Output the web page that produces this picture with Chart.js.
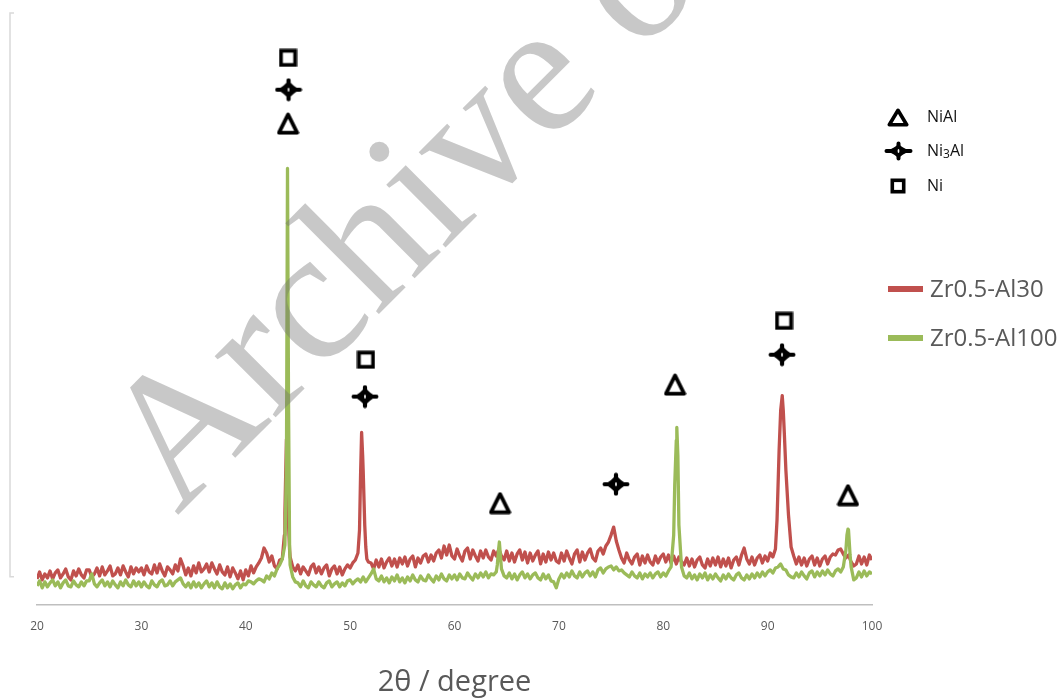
<!DOCTYPE html>
<html>
<head>
<meta charset="utf-8">
<title>XRD patterns</title>
<script src="https://cdn.jsdelivr.net/npm/chart.js@4.4.1/dist/chart.umd.min.js"></script>
<style>
  html, body { margin: 0; padding: 0; background: #ffffff; }
  canvas { display: block; }
</style>
</head>
<body>
<canvas id="xrd" width="1060" height="700"></canvas>
<script>
// Scan range and step of the diffractometer (2θ, degrees)
const scanStart = 20;
const scanEnd = 100;
const scanStep = 0.25;

// Intensity (a.u.) of Zr0.5-Al30, one value per scan step, rows of 5°
const intensityAl30 = [
  26, 33, 25, 31, 27, 34, 26, 32, 35, 27, 31, 36, 28, 25, 34, 29, 36, 30, 27, 35,
  35, 28, 31, 37, 29, 38, 30, 34, 39, 29, 31, 37, 30, 39, 33, 28, 38, 31, 37, 33,
  37, 30, 39, 33, 31, 40, 32, 41, 34, 29, 38, 35, 31, 40, 34, 46, 39, 30, 37, 29,
  39, 32, 42, 33, 36, 41, 33, 42, 36, 31, 40, 33, 30, 38, 28, 37, 32, 26, 34, 25,
  35, 29, 39, 32, 38, 42, 47, 57, 52, 43, 49, 39, 36, 45, 46, 92, 140, 48, 38, 34,
  40, 31, 38, 34, 30, 38, 41, 32, 38, 31, 37, 40, 29, 36, 39, 31, 38, 30, 36, 40,
  37, 42, 45, 52, 130, 135, 58, 43, 42, 36, 45, 38, 46, 37, 43, 47, 39, 46, 38, 47,
  41, 48, 39, 46, 49, 38, 47, 42, 49, 51, 43, 50, 44, 52, 55, 47, 59, 50, 60, 49,
  46, 56, 49, 44, 54, 57, 46, 55, 49, 44, 54, 47, 55, 48, 45, 54, 49, 56, 49, 45,
  54, 44, 52, 43, 51, 55, 45, 53, 42, 52, 44, 50, 54, 41, 51, 43, 53, 45, 52, 44,
  42, 52, 44, 54, 47, 41, 51, 55, 43, 53, 45, 52, 56, 47, 44, 54, 57, 51, 59, 63,
  70, 78, 64, 55, 47, 42, 52, 45, 41, 48, 51, 40, 49, 42, 50, 43, 40, 49, 42, 48,
  51, 43, 50, 42, 49, 41, 48, 43, 40, 47, 39, 46, 38, 45, 48, 40, 37, 46, 39, 47,
  40, 48, 38, 46, 39, 47, 37, 45, 48, 40, 50, 57, 46, 41, 48, 40, 47, 50, 42, 49,
  44, 52, 48, 56, 120, 195, 195, 135, 90, 58, 49, 41, 48, 40, 47, 39, 46, 49, 40, 47,
  39, 46, 49, 41, 48, 51, 50, 55, 56, 51, 47, 50, 43, 39, 41, 49, 41, 48, 40, 50,
  45
];

// Intensity (a.u.) of Zr0.5-Al100, one value per scan step, rows of 5°
const intensityAl100 = [
  19, 24, 17, 23, 18, 22, 25, 19, 23, 17, 22, 25, 19, 18, 24, 20, 18, 23, 19, 24,
  24, 31, 21, 18, 22, 25, 19, 23, 18, 24, 20, 17, 23, 19, 25, 20, 18, 24, 19, 23,
  18, 23, 19, 17, 24, 20, 18, 23, 25, 19, 20, 24, 19, 23, 25, 27, 21, 18, 22, 17,
  23, 18, 22, 17, 21, 24, 18, 22, 17, 23, 18, 16, 22, 17, 21, 16, 20, 22, 17, 21,
  20, 24, 23, 21, 24, 26, 25, 23, 29, 26, 32, 29, 36, 40, 46, 60, 438, 40, 28, 23,
  22, 18, 24, 19, 17, 23, 20, 18, 23, 19, 17, 22, 24, 18, 21, 23, 18, 22, 19, 24,
  25, 21, 24, 26, 23, 28, 23, 27, 31, 36, 26, 24, 29, 23, 27, 22, 28, 24, 30, 23,
  27, 22, 28, 24, 30, 25, 23, 29, 25, 24, 30, 26, 23, 29, 25, 31, 26, 24, 30, 26,
  30, 25, 31, 27, 26, 32, 28, 25, 31, 27, 32, 28, 33, 27, 31, 30, 33, 58, 36, 29,
  27, 32, 26, 31, 25, 30, 33, 27, 31, 26, 30, 32, 27, 25, 31, 26, 30, 24, 23, 17,
  26, 31, 27, 32, 28, 34, 29, 27, 33, 28, 32, 34, 29, 33, 28, 35, 37, 32, 36, 38,
  39, 35, 38, 34, 35, 32, 30, 28, 33, 29, 27, 32, 26, 31, 28, 32, 27, 31, 33, 28,
  32, 29, 34, 38, 70, 165, 80, 38, 29, 27, 32, 26, 30, 25, 31, 27, 32, 25, 30, 26,
  31, 27, 24, 30, 26, 31, 27, 25, 30, 32, 27, 25, 30, 26, 31, 27, 32, 28, 33, 29,
  33, 35, 32, 37, 38, 41, 36, 35, 30, 28, 27, 32, 28, 33, 29, 26, 32, 34, 28, 33,
  29, 34, 30, 35, 31, 29, 34, 36, 33, 38, 55, 75, 38, 25, 27, 33, 28, 34, 29, 33,
  31
];

// Additional readings across the sharp reflections (angle, intensity)
const al30PeakTheta  = [43.7, 43.8, 43.9, 44.1, 44.2, 50.9, 51.1, 51.2, 51.4, 51.6, 90.9, 91.1, 91.4, 91.6];
const al30PeakValue  = [70, 118, 166, 80, 55, 75, 173, 150, 80, 46, 85, 155, 210, 172];
const al100PeakTheta = [43.9, 44.1, 44.2, 64.1, 64.3, 81.1, 81.3, 81.4, 97.6, 97.7, 97.9];
const al100PeakValue = [140, 200, 60, 40, 63, 120, 178, 150, 70, 76, 50];

// Phase identification marks: reflection angle and height of the mark
const nialTheta  = [44.05, 64.36, 81.13, 97.7];
const nialLevel  = [483, 102, 221, 110];
const ni3alTheta = [44.1, 51.42, 75.47, 91.38];
const ni3alLevel = [517, 209, 121, 251];
const niTheta    = [44.05, 51.52, 91.57];
const niLevel    = [549, 246, 285];

const seriesNames = ['Zr0.5-Al30', 'Zr0.5-Al100'];
const phaseNames  = ['NiAl', 'Ni3Al', 'Ni'];
const xTicks      = [20, 30, 40, 50, 60, 70, 80, 90, 100];

const RED = '#C0504D';
const GREEN = '#9BBB59';
const TEXT_GREY = '#595959';
const FONT = '"Open Sans", "Noto Sans", sans-serif';

function toPoints(xs, ys) {
  return xs.map((x, i) => ({ x: x, y: ys[i] }));
}

// Step scan merged with the extra readings, ordered by angle
function scanPoints(values, extraTheta, extraValue) {
  const pts = values.map((v, i) => ({ x: scanStart + i * scanStep, y: v }));
  return pts.concat(toPoints(extraTheta, extraValue)).sort((a, b) => a.x - b.x);
}

// Phase symbols rendered to small canvases for use as point styles
function makeSymbol(kind, w, h, lw) {
  const c = document.createElement('canvas');
  c.width = w; c.height = h;
  const g = c.getContext('2d');
  g.strokeStyle = '#000';
  g.fillStyle = '#000';
  g.lineWidth = lw;
  g.lineJoin = 'round';
  const p = lw / 2 + 0.5;
  if (kind === 'triangle') {
    g.beginPath();
    g.moveTo(w / 2, p);
    g.lineTo(w - p, h - p);
    g.lineTo(p, h - p);
    g.closePath();
    g.stroke();
  } else if (kind === 'square') {
    g.lineJoin = 'miter';
    g.strokeRect(p, p, w - 2 * p, h - 2 * p);
  } else {
    // four-pointed star: concave body, rounded arms and a pin-hole centre
    const cx = w / 2, cy = h / 2, k = Math.min(w, h) * 0.16;
    const e = lw / 2 + 0.5;
    g.beginPath();
    g.moveTo(cx, e);
    g.quadraticCurveTo(cx + k, cy - k, w - e, cy);
    g.quadraticCurveTo(cx + k, cy + k, cx, h - e);
    g.quadraticCurveTo(cx - k, cy + k, e, cy);
    g.quadraticCurveTo(cx - k, cy - k, cx, e);
    g.closePath();
    g.fill();
    g.lineCap = 'round';
    g.beginPath();
    g.moveTo(e, cy);
    g.lineTo(w - e, cy);
    g.moveTo(cx, e);
    g.lineTo(cx, h - e);
    g.stroke();
    g.fillStyle = '#fff';
    g.beginPath();
    g.ellipse(cx, cy, 0.9, 1.9, 0, 0, Math.PI * 2);
    g.fill();
  }
  return c;
}

const symTriangle = makeSymbol('triangle', 23, 23, 3.8);
const symStar     = makeSymbol('star', 28, 24, 4.2);
const symSquare   = makeSymbol('square', 19, 19, 3.8);

const legTriangle = makeSymbol('triangle', 22, 19, 3.6);
const legStar     = makeSymbol('star', 29, 20, 4);
const legSquare   = makeSymbol('square', 16, 16, 3.6);

// Text with digits set as subscripts (e.g. Ni3Al)
function drawFormula(ctx, text, x, y, size) {
  let cx = x;
  for (const part of text.match(/\d+|\D+/g)) {
    const isSub = /\d/.test(part);
    ctx.font = (isSub ? Math.round(size * 0.72) : size) + 'px ' + FONT;
    ctx.fillText(part, cx, isSub ? y + size * 0.2 : y);
    cx += ctx.measureText(part).width;
  }
}

const decorations = {
  id: 'decorations',
  afterDraw(chart) {
    const ctx = chart.ctx;
    const area = chart.chartArea;
    ctx.save();

    // vertical intensity axis (unlabelled)
    ctx.strokeStyle = '#d9d9d9';
    ctx.lineWidth = 1.5;
    ctx.beginPath();
    ctx.moveTo(14, area.top + 6);
    ctx.lineTo(10, area.top + 6);
    ctx.lineTo(10, area.bottom - 28);
    ctx.lineTo(14, area.bottom - 28);
    ctx.stroke();

    // phase key
    const keySyms = [legTriangle, legStar, legSquare];
    const keyY = [117, 151, 186];
    ctx.fillStyle = '#111';
    ctx.textBaseline = 'middle';
    ctx.textAlign = 'left';
    phaseNames.forEach((name, i) => {
      const s = keySyms[i];
      ctx.drawImage(s, Math.round(898 - s.width / 2), Math.round(keyY[i] - s.height / 2));
      drawFormula(ctx, name, 927, keyY[i], 16);
    });

    // sample key
    const rows = [289, 338];
    seriesNames.forEach((name, i) => {
      const ds = chart.data.datasets.find(d => d.label === name);
      ctx.strokeStyle = ds.borderColor;
      ctx.lineWidth = 6;
      ctx.lineCap = 'butt';
      ctx.beginPath();
      ctx.moveTo(888, rows[i]);
      ctx.lineTo(923, rows[i]);
      ctx.stroke();
      ctx.fillStyle = TEXT_GREY;
      ctx.font = '24px ' + FONT;
      ctx.fillText(name, 930, rows[i] + 1);
    });

    // archive stamp
    ctx.translate(177, 516);
    ctx.rotate(-Math.PI / 4);
    ctx.font = '188px "Liberation Serif", "DejaVu Serif", serif';
    ctx.fillStyle = 'rgba(110,110,110,0.38)';
    ctx.textBaseline = 'alphabetic';
    ctx.fillText('Archive of SID', 0, 0);

    ctx.restore();
  }
};

new Chart(document.getElementById('xrd'), {
  type: 'line',
  data: {
    datasets: [
      {
        label: phaseNames[0], data: toPoints(nialTheta, nialLevel),
        showLine: false, pointStyle: symTriangle, pointRadius: 6, order: 0
      },
      {
        label: phaseNames[1], data: toPoints(ni3alTheta, ni3alLevel),
        showLine: false, pointStyle: symStar, pointRadius: 6, order: 0
      },
      {
        label: phaseNames[2], data: toPoints(niTheta, niLevel),
        showLine: false, pointStyle: symSquare, pointRadius: 6, order: 0
      },
      {
        label: seriesNames[1], data: scanPoints(intensityAl100, al100PeakTheta, al100PeakValue),
        borderColor: GREEN, borderWidth: 3.3, borderJoinStyle: 'round',
        pointRadius: 0, tension: 0, fill: false, order: 1
      },
      {
        label: seriesNames[0], data: scanPoints(intensityAl30, al30PeakTheta, al30PeakValue),
        borderColor: RED, borderWidth: 3.3, borderJoinStyle: 'round',
        pointRadius: 0, tension: 0, fill: false, order: 2
      }
    ]
  },
  options: {
    responsive: false,
    animation: false,
    events: [],
    layout: { padding: { left: 37, right: 188, top: 6, bottom: 0 } },
    plugins: {
      legend: { display: false },
      tooltip: { enabled: false }
    },
    scales: {
      x: {
        type: 'linear',
        min: scanStart,
        max: scanEnd,
        afterBuildTicks: (scale) => { scale.ticks = xTicks.map(v => ({ value: v })); },
        ticks: {
          color: TEXT_GREY,
          font: { family: FONT, size: 12 },
          padding: 15,
          maxRotation: 0,
          autoSkip: false
        },
        grid: { display: false, drawTicks: false },
        border: { display: true, color: '#bfbfbf', width: 1.5 },
        title: {
          display: true,
          text: '2θ / degree',
          color: TEXT_GREY,
          font: { family: FONT, size: 29 },
          padding: { top: 16, bottom: 0 }
        }
      },
      y: {
        display: false,
        min: 0,
        max: 600
      }
    }
  },
  plugins: [decorations]
});
</script>
</body>
</html>
